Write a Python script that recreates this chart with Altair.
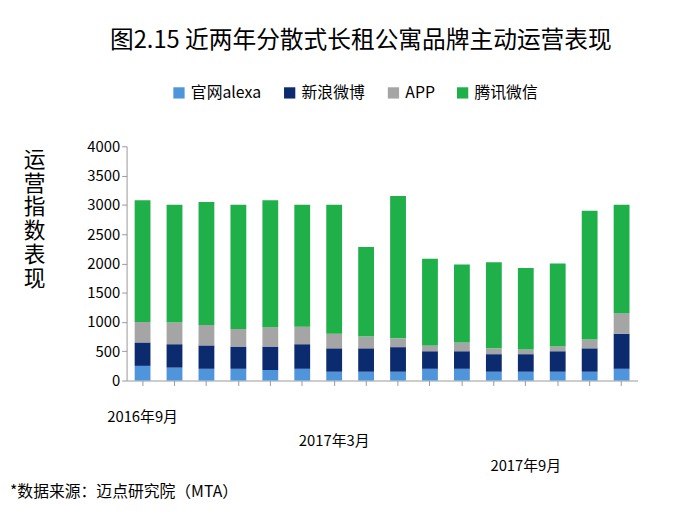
import altair as alt
import pandas as pd

months = ["2016年9月", "2016年10月", "2016年11月", "2016年12月", "2017年1月", "2017年2月",
          "2017年3月", "2017年4月", "2017年5月", "2017年6月", "2017年7月", "2017年8月",
          "2017年9月", "2017年10月", "2017年11月", "2017年12月"]
alexa = [250, 220, 200, 200, 180, 200, 150, 150, 150, 200, 200, 150, 150, 150, 150, 200]
weibo = [400, 400, 400, 380, 400, 420, 400, 400, 420, 300, 300, 300, 300, 350, 400, 600]
app = [350, 370, 350, 300, 330, 300, 250, 200, 150, 100, 150, 100, 80, 80, 150, 350]
wechat = [2080, 2010, 2100, 2120, 2170, 2080, 2200, 1530, 2430, 1480, 1330, 1470, 1390, 1420, 2200, 1850]
series = ["官网alexa", "新浪微博", "APP", "腾讯微信"]
colors = ["#4f95db", "#0c2b6e", "#a5a5a5", "#1fb04a"]

rows = []
for i, m in enumerate(months):
    for k, (s, vals) in enumerate(zip(series, [alexa, weibo, app, wechat])):
        rows.append({"月份": m, "系列": s, "值": vals[i], "序": k})
df = pd.DataFrame(rows)

xs = alt.X("月份:N", sort=months, title=None,
           axis=alt.Axis(labels=False, ticks=True, grid=False, domainColor="#999", tickColor="#999"))

bars = alt.Chart(df).mark_bar(size=16).encode(
    x=xs,
    y=alt.Y("值:Q", stack="zero", scale=alt.Scale(domain=[0, 4000]), title=None,
            axis=alt.Axis(values=list(range(0, 4001, 500)), format="d", labelFontSize=15, grid=False,
                          labelColor="#000", domainColor="#999", tickColor="#999")),
    color=alt.Color("系列:N", sort=series, scale=alt.Scale(domain=series, range=colors),
                    legend=alt.Legend(orient="none", legendX=45, legendY=-62, direction="horizontal",
                                      title=None, symbolType="square", labelFontSize=16,
                                      symbolSize=130, columnPadding=20)),
    order=alt.Order("序:Q"),
)

def label(text, yv):
    return alt.Chart(pd.DataFrame({"月份": [text]})).mark_text(fontSize=15, color="#000").encode(
        x=xs, y=alt.value(yv), text="月份:N")

def free(text, xv, yv, size, align="left", lh=None):
    kw = {"lineBreak": "\n", "lineHeight": lh} if lh else {}
    return alt.Chart(pd.DataFrame({"t": [text]})).mark_text(
        align=align, fontSize=size, color="#000", baseline="middle", **kw
    ).encode(x=alt.value(xv), y=alt.value(yv), text="t:N")

layers = [bars,
          label("2016年9月", 274), label("2017年3月", 298), label("2017年9月", 324),
          free("图2.15 近两年分散式长租公寓品牌主动运营表现", 237, -106, 24, align="center"),
          free("运\n营\n指\n数\n表\n现", -93, 14, 22, align="center", lh=24),
          free("*数据来源：迈点研究院（MTA）", -118, 350, 16)]

chart = alt.layer(*layers).properties(
    width=517, height=237, autosize="none",
    padding={"left": 120, "top": 137, "right": 48, "bottom": 120},
).configure(font="Noto Sans CJK SC").configure_view(stroke=None).configure_axis(grid=False)

chart.save("out.html", embed_options={"renderer": "svg", "actions": False})
